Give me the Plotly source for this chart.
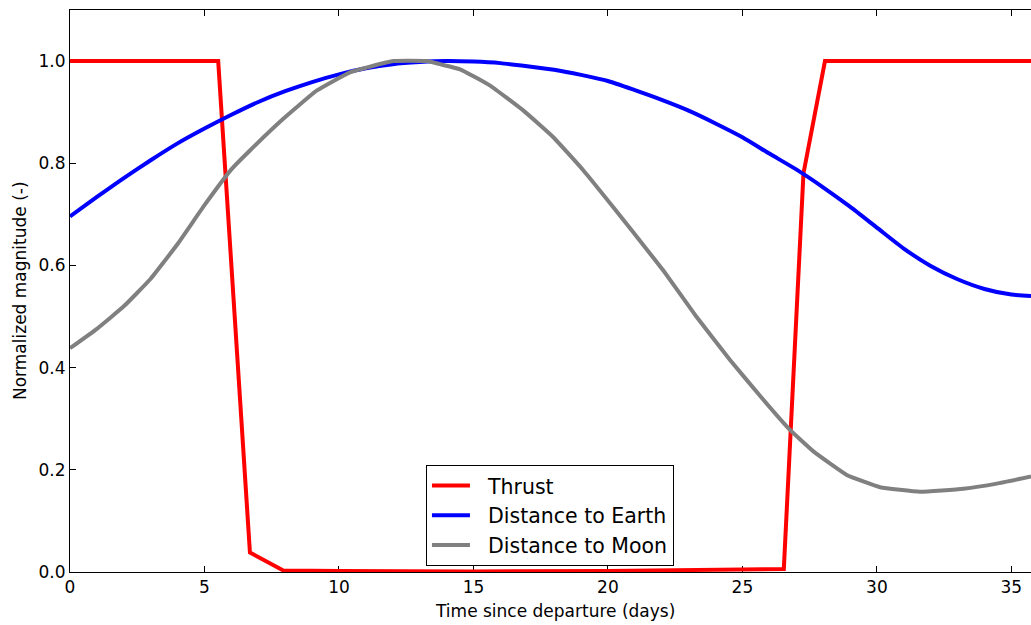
import plotly.graph_objects as go

# Normalized thrust profile over the transfer (days, magnitude)
thrust_days = [0.0, 5.51, 6.69, 7.93, 10.0, 15.0, 20.0, 25.0, 26.54, 27.27, 28.07, 35.73]
thrust_vals = [1.0, 1.0, 0.038, 0.003, 0.002, 0.001, 0.002, 0.004, 0.006, 0.780, 1.0, 1.0]

# Normalized distance to Earth
earth_days = [0, 1, 2, 3, 4, 5, 6, 7, 8, 9, 10, 11, 12, 13, 14, 15, 16, 17, 18,
              19, 20, 21, 22, 23, 24, 25, 26, 27, 28, 29, 30, 31, 32, 33, 34, 35, 35.73]
earth_vals = [0.696, 0.734, 0.771, 0.806, 0.839, 0.868, 0.895, 0.920, 0.941, 0.959,
              0.974, 0.986, 0.994, 0.998, 1.000, 0.999, 0.996, 0.990, 0.983, 0.973,
              0.961, 0.943, 0.924, 0.903, 0.878, 0.851, 0.819, 0.788, 0.753, 0.715,
              0.674, 0.633, 0.599, 0.573, 0.554, 0.543, 0.540]

# Normalized distance to Moon
moon_days = [0, 1, 2, 3, 4, 5, 6, 6.69, 7.93, 9.17, 10.41, 12.02, 13.26,
             13.76, 14.50, 15.62, 16.86, 17.97, 19.09, 20.20, 21.57, 22.06, 23.30,
             24.54, 25.78, 26.77, 27.64, 28.88, 30.12, 31.60, 33.22, 34.46, 35.73]
moon_vals = [0.438, 0.476, 0.520, 0.574, 0.642, 0.718, 0.788, 0.825, 0.887, 0.942, 0.978, 1.0, 1.0,
             0.994, 0.984, 0.952, 0.903, 0.851, 0.786, 0.714, 0.623, 0.590, 0.499,
             0.415, 0.337, 0.278, 0.236, 0.190, 0.166, 0.157, 0.163, 0.173, 0.187]

x_ticks = [0, 5, 10, 15, 20, 25, 30, 35]
y_ticks = [0.0, 0.2, 0.4, 0.6, 0.8, 1.0]

FONT = "DejaVu Sans"
PAD = "\u00a0\u00a0"  # small gap between legend swatch and label

fig = go.Figure()
fig.add_trace(go.Scatter(x=thrust_days, y=thrust_vals, mode="lines", name=PAD + "Thrust",
                         line=dict(color="#ff0000", width=4)))
fig.add_trace(go.Scatter(x=earth_days, y=earth_vals, mode="lines", name=PAD + "Distance to Earth",
                         line=dict(color="#0000ff", width=4, shape="spline", smoothing=0.6)))
fig.add_trace(go.Scatter(x=moon_days, y=moon_vals, mode="lines", name=PAD + "Distance to Moon",
                         line=dict(color="#808080", width=4, shape="spline", smoothing=0.35)))

axis_common = dict(
    showgrid=False, zeroline=False, showline=True, linecolor="black", linewidth=1,
    ticks="inside", ticklen=6, tickwidth=1, tickcolor="black",
    tickfont=dict(family=FONT, size=17, color="black"), layer="below traces",
)

fig.update_layout(
    width=1031, height=625,
    margin=dict(l=70, r=0, t=10, b=53),
    paper_bgcolor="white", plot_bgcolor="white",
    font=dict(family=FONT, color="black"),
    xaxis=dict(range=[0, 35.73], tickvals=x_ticks, mirror="ticks", **axis_common),
    yaxis=dict(range=[0, 1.1], tickvals=y_ticks, tickformat=".1f", mirror=False, **axis_common),
    legend=dict(
        x=0.3704, y=0.1908, xanchor="left", yanchor="top",
        bgcolor="white", bordercolor="black", borderwidth=1,
        font=dict(family=FONT, size=20.5, color="black"), itemwidth=38,
    ),
    annotations=[
        dict(text="Time since departure (days)", x=0.5052, y=-0.070, xref="paper", yref="paper",
             xanchor="center", yanchor="middle", showarrow=False,
             font=dict(family=FONT, size=17, color="black")),
        dict(text="Normalized magnitude (-)", x=-0.052, y=0.5, xref="paper", yref="paper",
             xanchor="center", yanchor="middle", textangle=-90, showarrow=False,
             font=dict(family=FONT, size=17, color="black")),
    ],
)

fig.write_html("out.html")
